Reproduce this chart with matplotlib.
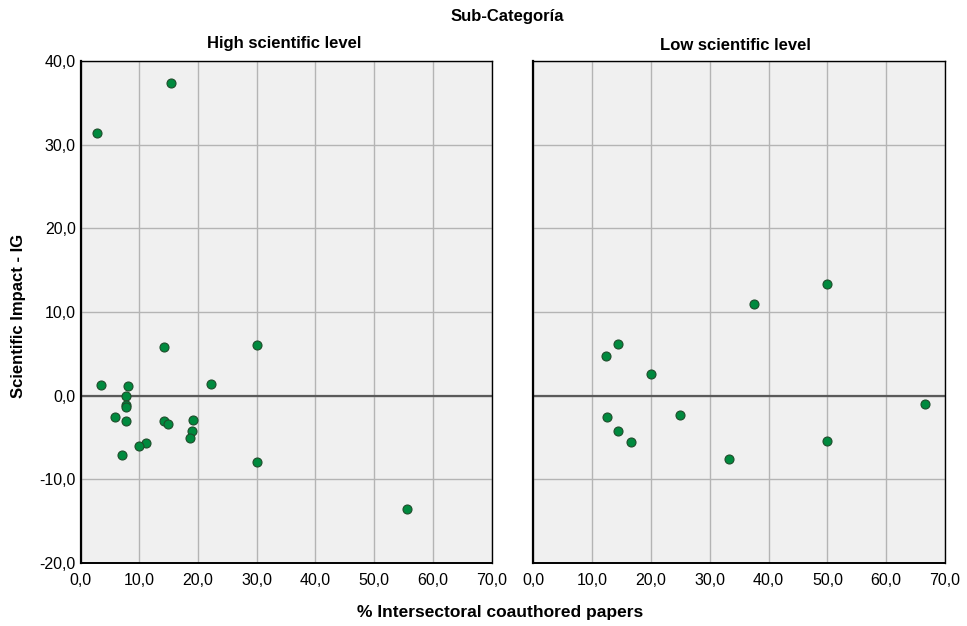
import matplotlib
matplotlib.use("Agg")
import matplotlib.pyplot as plt
from matplotlib.ticker import FuncFormatter

plt.rcParams['font.family'] = ['Liberation Sans', 'DejaVu Sans']

# data
high_x = [2.8, 15.3, 3.4, 8.0, 7.7, 7.7, 7.7, 5.8, 7.7, 14.2, 30.0, 22.2,
          14.2, 14.8, 19.1, 19.0, 18.7, 11.1, 9.9, 7.0, 30.0, 55.6]
high_y = [31.4, 37.4, 1.3, 1.2, 0.0, -1.1, -1.4, -2.5, -3.0, 5.8, 6.0, 1.35,
          -3.0, -3.4, -2.9, -4.2, -5.0, -5.6, -6.0, -7.1, -7.95, -13.6]

low_x = [50.0, 37.5, 14.3, 12.4, 20.0, 66.6, 12.45, 25.0, 14.3, 16.6, 50.0, 33.3]
low_y = [13.3, 11.0, 6.2, 4.75, 2.55, -1.0, -2.55, -2.3, -4.2, -5.55, -5.4, -7.6]

panel_titles = ["High scientific level", "Low scientific level"]
x_ticks = [0, 10, 20, 30, 40, 50, 60, 70]
y_ticks = [-20, -10, 0, 10, 20, 30, 40]

comma = FuncFormatter(lambda v, p: f"{v:.1f}".replace(".", ","))

fig = plt.figure(figsize=(9.67, 6.26), dpi=100)
ax1 = fig.add_axes([0.0835, 0.1006, 0.4248, 0.802])
ax2 = fig.add_axes([0.5517, 0.1006, 0.4255, 0.802])

for ax, xs, ys in [(ax1, high_x, high_y), (ax2, low_x, low_y)]:
    ax.set_facecolor("#f0f0f0")
    ax.set_xlim(0, 70)
    ax.set_ylim(-20, 40)
    ax.set_xticks(x_ticks)
    ax.set_yticks(y_ticks)
    ax.xaxis.set_major_formatter(comma)
    ax.yaxis.set_major_formatter(comma)
    ax.grid(True, color="#b4b4b4", linewidth=1)
    ax.set_axisbelow(True)
    ax.axhline(0, color="#5a5a5a", linewidth=1.6, zorder=1)
    ax.scatter(xs, ys, s=42, color="#008a3e", edgecolors="#1e4d2b",
               linewidths=0.8, zorder=3)
    ax.tick_params(length=0, labelsize=11.5, colors="black")
    ax.tick_params(axis="x", pad=7.5)
    ax.tick_params(axis="y", pad=3.5)
    for s in ax.spines.values():
        s.set_color("black")
        s.set_linewidth(1)
    ax.spines["left"].set_linewidth(1.6)
    ax.spines["bottom"].set_linewidth(1.4)

ax2.tick_params(labelleft=False)

fig.text(0.525, 0.974, "Sub-Categoría", ha="center", va="center",
         fontsize=12, fontweight="bold")
fig.text(0.294, 0.93, panel_titles[0], ha="center", va="center",
         fontsize=12, fontweight="bold")
fig.text(0.761, 0.927, panel_titles[1], ha="center", va="center",
         fontsize=12, fontweight="bold")
fig.text(0.517, 0.022, "% Intersectoral coauthored papers", ha="center",
         va="center", fontsize=12.5, fontweight="bold")
fig.text(0.019, 0.495, "Scientific Impact - IG", ha="center", va="center",
         rotation=90, fontsize=12, fontweight="bold")

fig.savefig("out.png", dpi=100)
